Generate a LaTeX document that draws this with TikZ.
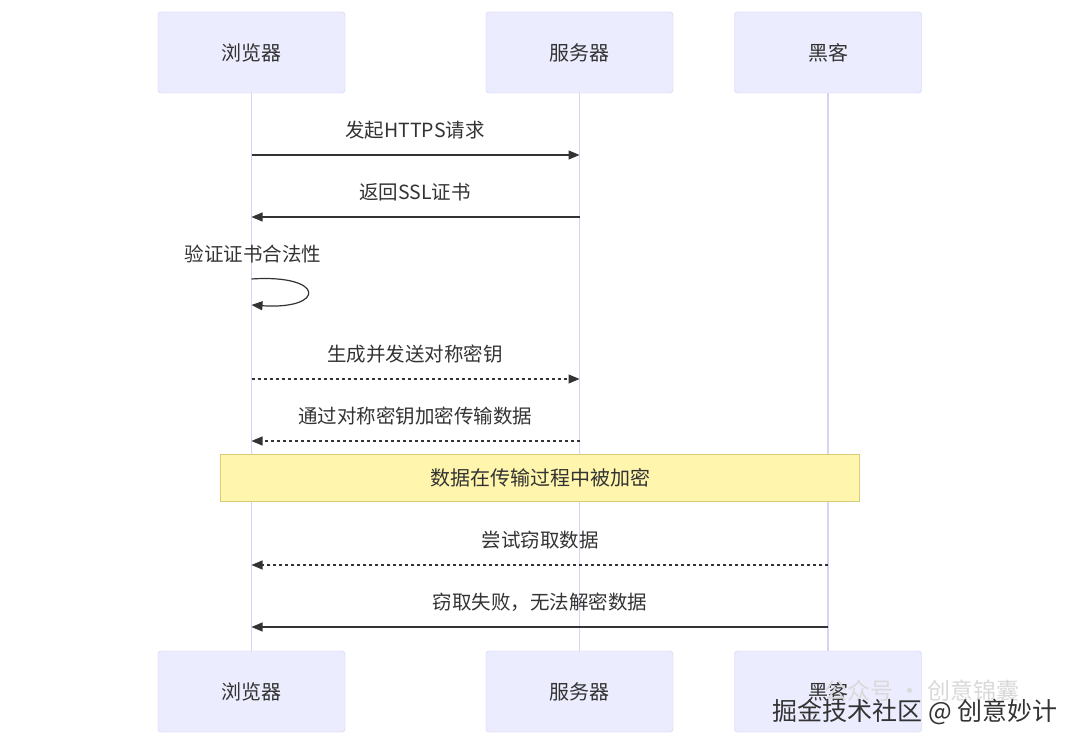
\documentclass[tikz,border=0pt]{standalone}
\usepackage{fontspec}
\setmainfont{Noto Sans CJK SC}
\usepackage{tikz}
\usetikzlibrary{arrows.meta, calc}
\definecolor{actorfill}{HTML}{ECECFF}
\definecolor{actorline}{HTML}{CFCBF2}
\definecolor{lifeline}{HTML}{D6D3F3}
\definecolor{notefill}{HTML}{FFF5AD}
\definecolor{noteline}{HTML}{D6CC7A}
\definecolor{ink}{HTML}{333333}

\tikzset{
  actor/.style={draw=actorline, fill=actorfill, rounded corners=3pt,
    minimum width=187pt, minimum height=81pt, text=ink, font=\fontsize{20}{22}\selectfont},
  msg/.style={draw=ink, line width=1.2pt, -{Triangle[length=11pt,width=9pt]}},
  msgdash/.style={msg, dash pattern=on 3pt off 3pt},
  msglabel/.style={text=ink, font=\fontsize{19.5}{22}\selectfont},
}

\begin{document}
\begin{tikzpicture}[x=1pt, y=-1pt]
  \useasboundingbox (0,0) rectangle (1080,746);
  \fill[white] (0,0) rectangle (1080,746);

  % Actors (top)
  \node[actor] (btop) at (251.5,52.5) {浏览器};
  \node[actor] (stop) at (579.5,52.5) {服务器};
  \node[actor] (htop) at (828,52.5) {黑客};

  % Actors (bottom)
  \node[actor] (bbot) at (251.5,691.5) {浏览器};
  \node[actor] (sbot) at (579.5,691.5) {服务器};
  \node[actor] (hbot) at (828,691.5) {黑客};

  % Lifelines
  \draw[lifeline, line width=1.4pt] (btop.south) -- (bbot.north);
  \draw[lifeline, line width=1.4pt] (stop.south) -- (sbot.north);
  \draw[lifeline, line width=1.4pt] (htop.south) -- (hbot.north);

  % Browser -> server: request
  \draw[msg] (btop |- 0,155) -- (stop |- 0,155);
  \node[msglabel] (m1) at (415,130) {发起HTTPS请求};

  % Server -> browser: certificate
  \draw[msg] (stop |- 0,217) -- (btop |- 0,217);
  \node[msglabel] (m2) at (415,192) {返回SSL证书};

  % Self check
  \node[msglabel] (m3) at (253,254) {验证证书合法性};
  \coordinate (loopa) at ($(btop |- 0,279)$);
  \coordinate (loopb) at ($(btop |- 0,305)$);
  \draw[msg] (loopa) .. controls (326,274) and (326,310) .. (loopb);

  % Symmetric key
  \draw[msgdash] (btop |- 0,379) -- (stop |- 0,379);
  \node[msglabel] (m4) at (415,354) {生成并发送对称密钥};

  \draw[msgdash] (stop |- 0,441) -- (btop |- 0,441);
  \node[msglabel] (m5) at (415,416) {通过对称密钥加密传输数据};

  % Note over all
  \node[draw=noteline, fill=notefill, minimum width=639pt, minimum height=47pt,
    text=ink, font=\fontsize{20}{22}\selectfont] (note) at (540,477.5) {数据在传输过程中被加密};

  % Hacker
  \draw[msgdash] (htop |- 0,565) -- (btop |- 0,565);
  \node[msglabel] (m6) at (540,540) {尝试窃取数据};

  \draw[msg] (htop |- 0,627) -- (btop |- 0,627);
  \node[msglabel] (m7) at (540,602) {窃取失败，无法解密数据};

  % Watermark
  \node[text=gray!30, font=\fontsize{23}{24}\selectfont] (wm1) at (922,691) {公众号 · 创意锦囊};
  \node[text=ink, font=\fontsize{25}{26}\selectfont] (wm2) at (915,712) {掘金技术社区 @ 创意妙计};
\end{tikzpicture}
\end{document}
